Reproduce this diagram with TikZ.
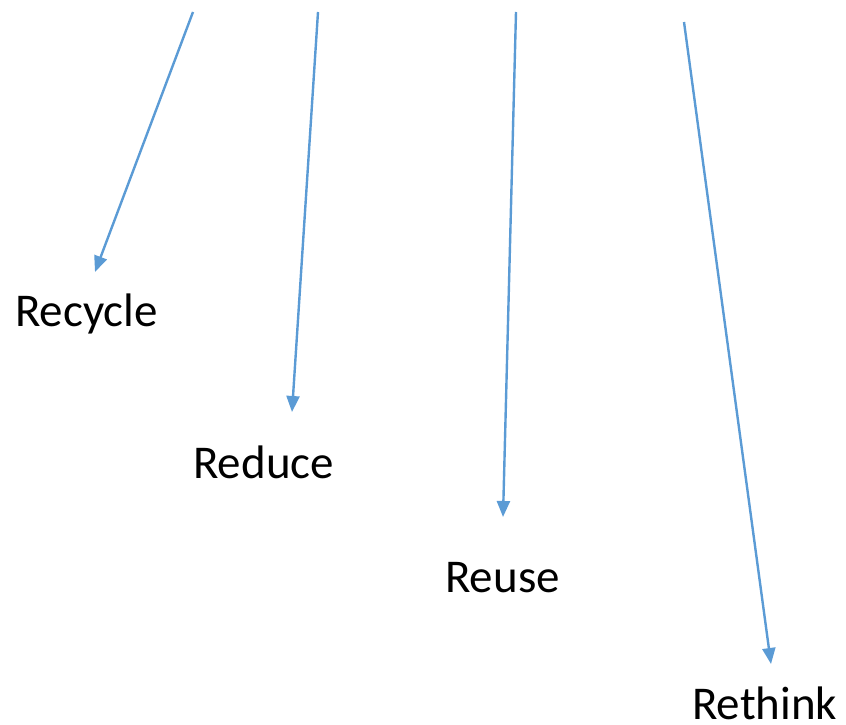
\documentclass[tikz,border=0pt]{standalone}
\usepackage{fontspec}
\setmainfont{Carlito}
\usetikzlibrary{arrows.meta}
\definecolor{arrowblue}{RGB}{91,155,213}
\tikzset{
  conn/.style={draw=arrowblue, line width=2.4pt, -{Triangle[length=16pt,width=13pt]}},
  lbl/.style={anchor=base west, inner sep=0pt, font=\fontsize{47}{53}\selectfont}
}
\begin{document}
\begin{tikzpicture}[x=1pt,y=-1pt]
\useasboundingbox (0,0) rectangle (846,725);
\node[lbl] (recycle) at (15,326) {Recycle};
\node[lbl] (reduce) at (193,478) {Reduce};
\node[lbl] (reuse) at (445,592) {Reuse};
\node[lbl] (rethink) at (692,719) {Rethink};
\coordinate (s1) at (193,12);
\coordinate (e1) at (95,272);
\coordinate (s2) at (318,12);
\coordinate (e2) at (292,412);
\coordinate (s3) at (516,12);
\coordinate (e3) at (503,517);
\coordinate (s4) at (684,22);
\coordinate (e4) at (771,664);
\draw[conn] (s1) -- (e1);
\draw[conn] (s2) -- (e2);
\draw[conn] (s3) -- (e3);
\draw[conn] (s4) -- (e4);
\end{tikzpicture}
\end{document}
